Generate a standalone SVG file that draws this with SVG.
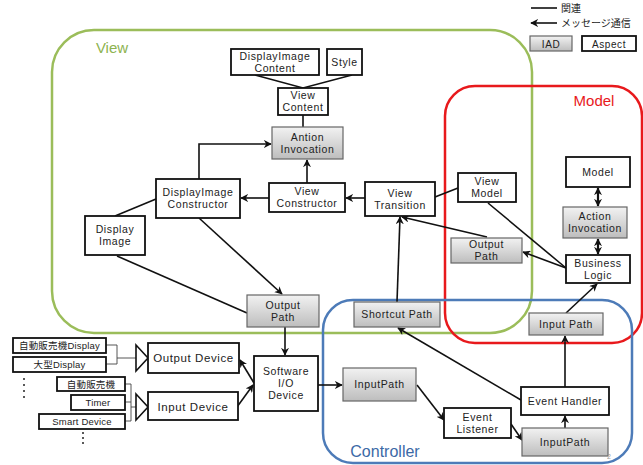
<svg xmlns="http://www.w3.org/2000/svg" width="643" height="465" viewBox="0 0 643 465">
<style>
text{font-family:"Liberation Sans","Noto Sans CJK JP",sans-serif;font-size:10.5px;letter-spacing:0.6px;fill:#222;text-anchor:middle}
.w{fill:#fff;stroke:#111;stroke-width:1.8}
.g{fill:url(#gr);stroke:#666;stroke-width:1.2}
.c{fill:none;stroke:#111;stroke-width:1.6}
.a{marker-end:url(#ah)}
.t{fill:none;stroke:#444;stroke-width:0.9}
.s{font-size:9.5px;letter-spacing:0.2px}
.lab{font-size:15px;letter-spacing:0}
</style>
<defs>
<linearGradient id="gr" x1="0" y1="0" x2="0" y2="1"><stop offset="0" stop-color="#f2f2f2"/><stop offset="1" stop-color="#bdbdbd"/></linearGradient>
<marker id="ah" viewBox="0 0 10 10" refX="9" refY="5" markerWidth="8" markerHeight="8" orient="auto-start-reverse" markerUnits="userSpaceOnUse"><path d="M0,0 L10,5 L0,10 L3,5 Z" fill="#111"/></marker>
</defs>

<g id="containers">
<rect x="52" y="30" width="480" height="303" rx="42" fill="none" stroke="#9bbd5a" stroke-width="2.5"/>
<rect x="445" y="86" width="197" height="257" rx="30" fill="none" stroke="#e8191c" stroke-width="2.5"/>
<rect x="323" y="300" width="309" height="163" rx="30" fill="none" stroke="#4d7bb8" stroke-width="2.5"/>
<text class="lab" x="112" y="53" style="fill:#8db350">View</text>
<text class="lab" x="594" y="106" style="fill:#e8191c">Model</text>
<text class="lab" x="385" y="457" style="fill:#3c69a6;font-size:16px">Controller</text>
</g>

<g id="legend">
<line x1="531" y1="8" x2="557" y2="8" stroke="#111" stroke-width="1.6"/>
<text x="561" y="12" style="text-anchor:start;font-size:10px;letter-spacing:0">関連</text>
<line x1="557" y1="23" x2="531" y2="23" class="c a"/>
<text x="561" y="27" style="text-anchor:start;font-size:10px;letter-spacing:0">メッセージ通信</text>
<rect x="530" y="36" width="42" height="15" class="g"/>
<text x="551" y="47.5" style="font-size:10px">IAD</text>
<rect x="582" y="36" width="54" height="15" class="w"/>
<text x="609" y="47.5" style="font-size:10px">Aspect</text>
</g>

<g id="connectors">
<path class="c" d="M255,75 L303,88 L352,75"/>
<path class="c" d="M303,115 L303,127"/>
<path class="c a" d="M199,179 L199,144 L271,144"/>
<path class="c a" d="M307,183 L307,160"/>
<path class="c a" d="M269,198 L241,198"/>
<path class="c a" d="M365,198 L346,198"/>
<path class="c" d="M435,197 L458,188"/>
<path class="c a" d="M487,237 L402,217"/>
<path class="c a" d="M397,302 L400,217"/>
<path class="c" d="M488,203 L566,268"/>
<path class="c a" d="M566,268 L523,252"/>
<path d="M598,188 L598,206" class="c" style="stroke-width:2.2;marker-start:url(#ah);marker-end:url(#ah)"/>
<path d="M598,239 L598,254" class="c" style="stroke-width:2.2;marker-start:url(#ah);marker-end:url(#ah)"/>
<path class="c a" d="M566,313 L597,284"/>
<path class="c a" d="M565,387 L565,336"/>
<path class="c a" d="M565,428 L565,416"/>
<path class="c a" d="M521,400 L398,328"/>
<path class="c a" d="M417,385 L444,420"/>
<path class="c a" d="M511,424 L522,440"/>
<path class="c a" d="M318,385 L342,385"/>
<path class="c a" d="M285,327 L285,355"/>
<path class="c a" d="M199,218 L282,294"/>
<path class="c" d="M117,256 L247,313"/>
<path class="c" d="M115,216 L156,199"/>
<path class="c a" d="M254,383 L240,360"/>
<path class="c a" d="M237,407 L253,385"/>
<path class="t" d="M106,345 L117,345 L117,364 L106,364 M117,358 L136,358"/>
<path class="t" d="M125,384 L131,384 L131,421 L125,421 M125,402 L131,402 M131,407 L136,407"/>
<path d="M136,345 L148,358 L136,371 Z" fill="#fff" stroke="#111" stroke-width="1.6"/>
<path d="M136,394 L148,407 L136,420 Z" fill="#fff" stroke="#111" stroke-width="1.6"/>
</g>

<g id="n-dicontent"><rect x="231" y="49" width="88" height="26" class="w"/><text x="275" y="60">DisplayImage</text><text x="275" y="72">Content</text></g>
<g id="n-style"><rect x="327" y="49" width="35" height="26" class="w"/><text x="344.5" y="65.5">Style</text></g>
<g id="n-viewcontent"><rect x="278" y="88" width="50" height="27" class="w"/><text x="303" y="99">View</text><text x="303" y="111">Content</text></g>
<g id="n-antion"><rect x="272" y="127" width="71" height="32" class="g"/><text x="307.5" y="141">Antion</text><text x="307.5" y="153">Invocation</text></g>
<g id="n-diconstructor"><rect x="156" y="179" width="84" height="39" class="w"/><text x="198" y="196">DisplayImage</text><text x="198" y="208">Constructor</text></g>
<g id="n-displayimage"><rect x="85" y="216" width="60" height="39" class="w"/><text x="115" y="233">Display</text><text x="115" y="245">Image</text></g>
<g id="n-viewconstructor"><rect x="269" y="183" width="76" height="29" class="w"/><text x="307" y="195">View</text><text x="307" y="207">Constructor</text></g>
<g id="n-viewtransition"><rect x="365" y="182" width="70" height="34" class="w"/><text x="400" y="197">View</text><text x="400" y="209">Transition</text></g>
<g id="n-viewmodel"><rect x="458" y="173" width="58" height="29" class="w"/><text x="487" y="185">View</text><text x="487" y="197">Model</text></g>
<g id="n-outputpath-m"><rect x="451" y="238" width="71" height="25" class="g"/><text x="486.5" y="248">Output</text><text x="486.5" y="260">Path</text></g>
<g id="n-model"><rect x="566" y="157" width="64" height="30" class="w"/><text x="598" y="175.5">Model</text></g>
<g id="n-actioninvocation"><rect x="563" y="207" width="64" height="31" class="g"/><text x="595" y="220">Action</text><text x="595" y="232">Invocation</text></g>
<g id="n-businesslogic"><rect x="566" y="255" width="64" height="28" class="w"/><text x="598" y="267">Business</text><text x="598" y="279">Logic</text></g>
<g id="n-outputpath-v"><rect x="247" y="295" width="72" height="32" class="g"/><text x="283" y="309">Output</text><text x="283" y="321">Path</text></g>
<g id="n-shortcut"><rect x="354" y="302" width="86" height="25" class="g"/><text x="397" y="318">Shortcut Path</text></g>
<g id="n-inputpath-m"><rect x="529" y="313" width="74" height="22" class="g"/><text x="566" y="327.5">Input Path</text></g>
<g id="n-software"><rect x="254" y="356" width="64" height="55" class="w"/><text x="286" y="375">Software</text><text x="286" y="387">I/O</text><text x="286" y="399">Device</text></g>
<g id="n-inputpath-l"><rect x="343" y="368" width="73" height="33" class="g"/><text x="379.5" y="388">InputPath</text></g>
<g id="n-eventlistener"><rect x="444" y="408" width="67" height="30" class="w"/><text x="477.5" y="421">Event</text><text x="477.5" y="433">Listener</text></g>
<g id="n-eventhandler"><rect x="521" y="387" width="88" height="28" class="w"/><text x="565" y="404.5">Event Handler</text></g>
<g id="n-inputpath-r"><rect x="522" y="428" width="86" height="28" class="g"/><text x="565" y="445.5">InputPath</text></g>
<g id="n-outputdevice"><rect x="148" y="343" width="91" height="30" class="w"/><text x="193.5" y="362" style="font-size:11.5px">Output Device</text></g>
<g id="n-inputdevice"><rect x="148" y="392" width="90" height="28" class="w"/><text x="193" y="410.5" style="font-size:11.5px">Input Device</text></g>
<g id="n-vmdisplay"><rect x="13" y="338" width="93" height="15" class="w"/><text class="s" x="59.5" y="349">自動販売機Display</text></g>
<g id="n-bigdisplay"><rect x="13" y="357" width="93" height="15" class="w"/><text class="s" x="59.5" y="368">大型Display</text></g>
<g id="n-vm"><rect x="57" y="377" width="68" height="14" class="w"/><text class="s" x="91" y="388">自動販売機</text></g>
<g id="n-timer"><rect x="71" y="395" width="54" height="15" class="w"/><text class="s" x="98" y="406">Timer</text></g>
<g id="n-smart"><rect x="39" y="414" width="86" height="15" class="w"/><text class="s" x="82" y="425">Smart Device</text></g>
<g id="dots" fill="#222">
<circle cx="24" cy="379" r="1"/><circle cx="24" cy="385" r="1"/><circle cx="24" cy="391" r="1"/><circle cx="24" cy="397" r="1"/>
<circle cx="83" cy="433" r="1"/><circle cx="83" cy="438" r="1"/><circle cx="83" cy="443" r="1"/>
</g>
<text x="609" y="459" style="font-size:7px;fill:#999;letter-spacing:0">2</text>
</svg>
